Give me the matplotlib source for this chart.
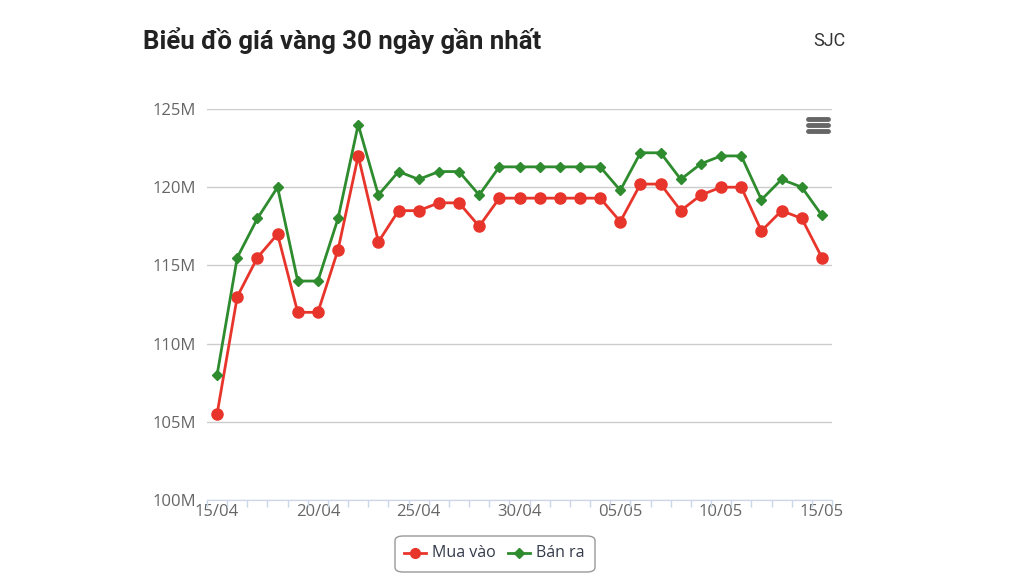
import numpy as np
import matplotlib.pyplot as plt
from matplotlib.patches import FancyBboxPatch
from matplotlib.lines import Line2D

# ngay 15/04 -> 15/05
days = ['15/04', '16/04', '17/04', '18/04', '19/04', '20/04', '21/04', '22/04',
        '23/04', '24/04', '25/04', '26/04', '27/04', '28/04', '29/04', '30/04',
        '01/05', '02/05', '03/05', '04/05', '05/05', '06/05', '07/05', '08/05',
        '09/05', '10/05', '11/05', '12/05', '13/05', '14/05', '15/05']

# gia (trieu dong)
mua_vao = [105.5, 113.0, 115.5, 117.0, 112.0, 112.0, 116.0, 122.0,
           116.5, 118.5, 118.5, 119.0, 119.0, 117.5, 119.3, 119.3,
           119.3, 119.3, 119.3, 119.3, 117.8, 120.2, 120.2, 118.5,
           119.5, 120.0, 120.0, 117.2, 118.5, 118.0, 115.5]
ban_ra = [108.0, 115.5, 118.0, 120.0, 114.0, 114.0, 118.0, 124.0,
          119.5, 121.0, 120.5, 121.0, 121.0, 119.5, 121.3, 121.3,
          121.3, 121.3, 121.3, 121.3, 119.8, 122.2, 122.2, 120.5,
          121.5, 122.0, 122.0, 119.2, 120.5, 120.0, 118.2]

y_ticks = [100, 105, 110, 115, 120, 125]

red = '#e8352b'
green = '#2e8b2e'

fig = plt.figure(figsize=(10.24, 5.76), dpi=100)
ax = fig.add_axes([207 / 1024, 1 - 500 / 576, 625 / 1024, 391 / 576])

x = np.arange(len(days))
ax.plot(x, mua_vao, color=red, lw=2, marker='o', ms=8, zorder=3)
ax.plot(x, ban_ra, color=green, lw=2, marker='D', ms=5.5, zorder=3)

ax.set_xlim(-0.5, len(days) - 0.5)
ax.set_ylim(100, 125)
ax.set_yticks(y_ticks)
ax.set_yticklabels([f'{v}M' for v in y_ticks])
ax.yaxis.grid(True, color='#cccccc', lw=1)
ax.set_axisbelow(True)
ax.tick_params(axis='y', length=0, pad=8, labelsize=12, labelcolor='#666666')

ax.set_xticks(x[::5])
ax.set_xticklabels(days[::5])
ax.set_xticks(np.arange(-0.5, len(days)), minor=True)
ax.tick_params(axis='x', which='major', length=0, pad=3, labelsize=12, labelcolor='#666666')
ax.tick_params(axis='x', which='minor', length=5, color='#ccd6eb', width=1)

for s in ['top', 'right', 'left']:
    ax.spines[s].set_visible(False)
ax.spines['bottom'].set_color('#ccd6eb')

for lab in ax.get_xticklabels() + ax.get_yticklabels():
    lab.set_family('Open Sans')

# tieu de
fig.text(143 / 1024, 1 - 41 / 576, 'Biểu đồ giá vàng 30 ngày gần nhất',
         fontsize=18.5, fontweight='bold', family='Roboto', color='#222222', va='center')
fig.text(846 / 1024, 1 - 41 / 576, 'SJC', fontsize=13, family='Roboto',
         color='#333333', va='center', ha='right')

# menu icon
for yy in [119, 125, 131]:
    fig.add_artist(Line2D([808 / 1024, 828 / 1024], [1 - yy / 576, 1 - yy / 576],
                          color='#666666', lw=3.5, solid_capstyle='round'))

# legend
box = FancyBboxPatch((395 / 1024, 1 - 572 / 576), 200 / 1024, 36 / 576,
                     boxstyle='round,pad=0,rounding_size=0.008',
                     transform=fig.transFigure, fc='white', ec='#999999', lw=1)
fig.add_artist(box)
ly = 1 - 553 / 576
fig.add_artist(Line2D([404 / 1024, 415 / 1024, 426 / 1024], [ly, ly, ly], color=red, lw=2,
                      marker='o', ms=7, markevery=[1]))
fig.text(432 / 1024, ly, 'Mua vào', fontsize=11.5, family='Open Sans', color='#333a4a', va='center')
fig.add_artist(Line2D([508 / 1024, 519 / 1024, 530 / 1024], [ly, ly, ly], color=green, lw=2,
                      marker='D', ms=5, markevery=[1]))
fig.text(536 / 1024, ly, 'Bán ra', fontsize=11.5, family='Open Sans', color='#333a4a', va='center')

fig.savefig('out.png', dpi=100)
